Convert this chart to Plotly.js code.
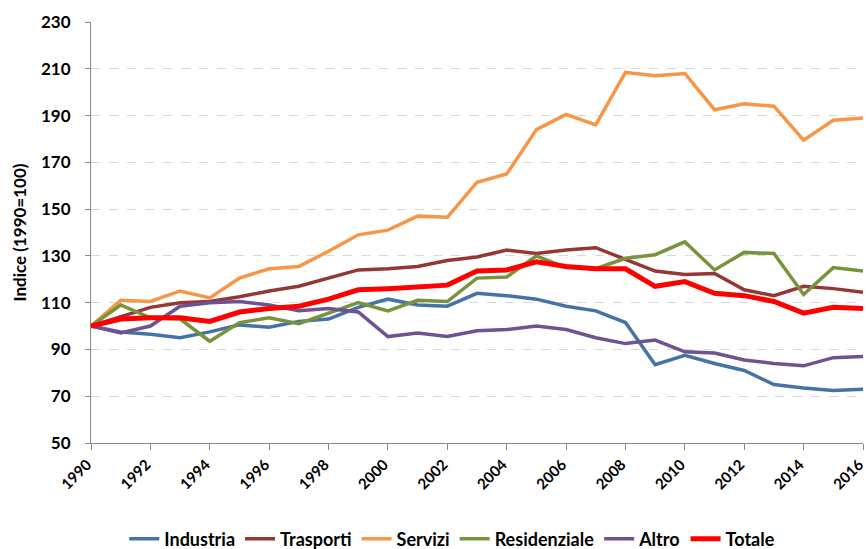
<!DOCTYPE html>
<html>
<head>
<meta charset="utf-8">
<script src="https://cdn.plot.ly/plotly-3.0.1.min.js"></script>
<style>html,body{margin:0;padding:0;background:#fff;}#chart{width:866px;height:549px;}</style>
</head>
<body>
<div id="chart"></div>
<script>
const years = [1990,1991,1992,1993,1994,1995,1996,1997,1998,1999,2000,2001,2002,2003,2004,2005,2006,2007,2008,2009,2010,2011,2012,2013,2014,2015,2016];
const industria = [100,97.5,96.5,95,97.5,100.5,99.5,102,103,108,111.5,109,108.5,114,113,111.5,108.5,106.5,101.5,83.5,87.5,84,81,75,73.5,72.5,73];
const trasporti = [100,104,108,110,110.5,112.5,115,117,120.5,124,124.5,125.5,128,129.5,132.5,131,132.5,133.5,128.5,123.5,122,122.5,115.5,113,117,116,114.5];
const servizi = [100,111,110.5,115,112,120.5,124.5,125.5,132,139,141,147,146.5,161.5,165,184,190.5,186,208.5,207,208,192.5,195,194,179.5,188,189];
const residenziale = [100,109,103.5,103,93.5,101.5,103.5,101,105.5,110,106.5,111,110.5,120.5,121,130,125,124.5,129,130.5,136,124,131.5,131,113.5,125,123.5];
const altro = [100,97,100,108.5,110,110.5,109,106.5,107.5,106,95.5,97,95.5,98,98.5,100,98.5,95,92.5,94,89,88.5,85.5,84,83,86.5,87];
const totale = [100,103,103.5,103.5,102,106,107.5,108.5,111.5,115.5,116,116.5,117.5,123.5,124,127.5,125.5,124.5,124.5,117,119,114,113,110.5,105.5,108,107.5];
const yTicks = [50,70,90,110,130,150,170,190,210,230];
const xTicks = [1990,1992,1994,1996,1998,2000,2002,2004,2006,2008,2010,2012,2014,2016];

const series = [
  {name:'Industria', y:industria, color:'#4572A7', w:3.5},
  {name:'Trasporti', y:trasporti, color:'#953735', w:3.5},
  {name:'Servizi', y:servizi, color:'#F79646', w:3.5},
  {name:'Residenziale', y:residenziale, color:'#77933C', w:3.5},
  {name:'Altro', y:altro, color:'#6E5391', w:3.5},
  {name:'Totale', y:totale, color:'#FF0000', w:5}
];
const traces = series.map(s => ({
  x: years, y: s.y, name: s.name, type: 'scatter', mode: 'lines',
  line: {color: s.color, width: s.w, shape: 'linear'}
}));
const fam = 'Lato, "Liberation Sans", sans-serif';
const fnt = {family: fam, size: 17, color: '#000', weight: 'bold'};
const layout = {
  width: 866, height: 549,
  margin: {l: 91, r: 3, t: 22, b: 106, autoexpand: false},
  paper_bgcolor: '#fff', plot_bgcolor: '#fff',
  showlegend: true,
  legend: {orientation: 'h', x: 0.468, xanchor: 'center', yref: 'container', y: 0.018, yanchor: 'middle',
           font: {family: fam, size: 18, color: '#000', weight: 'bold'}, itemwidth: 30, tracegroupgap: 0},
  xaxis: {
    range: [1990, 2016], tickmode: 'array', tickvals: xTicks, ticktext: xTicks.map(String),
    tickangle: -45, tickfont: {family: fam, size: 15, color: '#000', weight: 'bold'}, showgrid: false, zeroline: false,
    ticklabeloverflow: 'allow', automargin: false, ticklabelshift: -4,
    showline: true, linecolor: '#888', linewidth: 1, ticks: 'outside', ticklen: 6, tickcolor: '#888'
  },
  yaxis: {
    range: [50, 230], tickmode: 'array', tickvals: yTicks, ticktext: yTicks.map(String), automargin: false,
    tickfont: fnt, showgrid: true, gridcolor: '#d9d9d9', griddash: 'dash', gridwidth: 1, ticklabelstandoff: 11,
    zeroline: false, showline: true, linecolor: '#888', linewidth: 1, ticks: 'outside', ticklen: 5, tickcolor: '#888',
    title: {text: 'Indice (1990=100)', font: {family: fam, size: 17, color: '#000', weight: 'bold'}, standoff: 10}
  }
};
Plotly.newPlot('chart', traces, layout, {displayModeBar: false, staticPlot: true});
</script>
</body>
</html>
